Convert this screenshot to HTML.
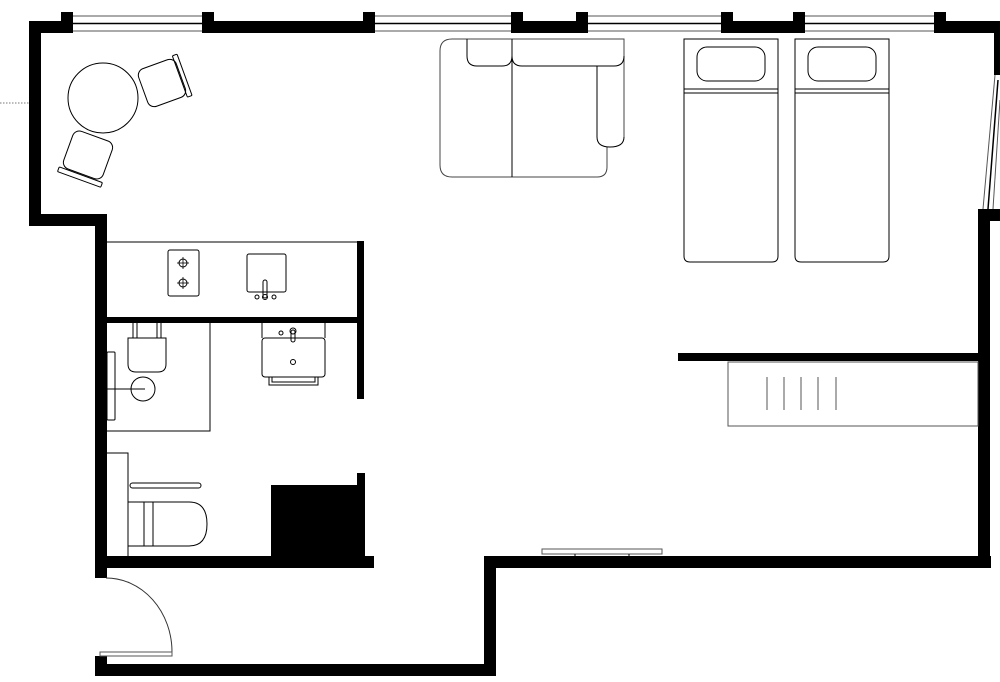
<!DOCTYPE html>
<html><head><meta charset="utf-8"><style>html,body{margin:0;padding:0;background:#fff}svg{display:block}</style></head>
<body>
<svg width="1000" height="682" viewBox="0 0 1000 682" xmlns="http://www.w3.org/2000/svg">
<g fill="#000">
<rect x="29" y="21" width="44" height="12"/><rect x="61" y="12" width="12" height="21"/>
<rect x="202" y="21" width="173" height="12"/><rect x="202" y="12" width="12" height="21"/><rect x="363" y="12" width="12" height="21"/>
<rect x="511" y="21" width="77" height="12"/><rect x="511" y="12" width="12" height="21"/><rect x="576" y="12" width="12" height="21"/>
<rect x="721" y="21" width="84" height="12"/><rect x="721" y="12" width="12" height="21"/><rect x="793" y="12" width="12" height="21"/>
<rect x="934" y="21" width="66" height="12"/><rect x="934" y="12" width="12" height="21"/>
<rect x="994" y="21" width="6" height="54"/>
<rect x="29" y="21" width="12" height="205"/>
<rect x="29" y="214" width="78" height="12"/>
<rect x="95" y="214" width="12" height="364"/>
<rect x="95" y="656" width="12" height="20"/>
<rect x="95" y="664" width="401" height="12"/>
<rect x="484" y="556" width="12" height="120"/>
<rect x="484" y="556" width="507" height="12"/>
<rect x="978" y="209" width="22" height="12"/>
<rect x="978" y="209" width="12" height="359"/>
<rect x="107" y="317" width="251" height="6"/>
<rect x="357" y="241" width="7" height="158"/>
<rect x="357" y="473" width="8" height="90"/>
<rect x="271" y="485" width="93" height="75"/>
<rect x="95" y="556" width="279" height="12"/>
<rect x="678" y="353" width="300" height="8"/>
</g>
<g fill="none" stroke="#000" stroke-width="1">
<g stroke="#555"><line x1="73" y1="16" x2="202" y2="16"/><line x1="73" y1="31" x2="202" y2="31"/>
<line x1="375" y1="16" x2="511" y2="16"/><line x1="375" y1="31" x2="511" y2="31"/>
<line x1="588" y1="16" x2="721" y2="16"/><line x1="588" y1="31" x2="721" y2="31"/>
<line x1="805" y1="16" x2="934" y2="16"/><line x1="805" y1="31" x2="934" y2="31"/></g>
<g stroke-width="1.5"><line x1="73" y1="23.5" x2="202" y2="23.5"/><line x1="375" y1="23.5" x2="511" y2="23.5"/><line x1="588" y1="23.5" x2="721" y2="23.5"/><line x1="805" y1="23.5" x2="934" y2="23.5"/></g>
<line x1="995" y1="75" x2="983" y2="209" stroke="#555"/><line x1="998" y1="80" x2="988" y2="209" stroke-width="1.5"/><line x1="1000" y1="100" x2="993" y2="209" stroke="#555"/>
<line x1="0" y1="103" x2="29" y2="103" stroke="#777" stroke-dasharray="1.5,1.5"/>
<circle cx="103" cy="98" r="35"/>
<g transform="translate(162,83) rotate(-20)"><rect x="-20" y="-20" width="40" height="40" rx="7"/><rect x="19" y="-22" width="5" height="44" rx="1"/></g>
<g transform="translate(88,155) rotate(20)"><rect x="-21" y="-20" width="42" height="40" rx="7"/><rect x="-23" y="21" width="46" height="5" rx="1"/></g>
<!-- sofa -->
<path d="M607 147 V167 Q607 177 597 177 H452 Q440 177 440 165 V51 Q440 39 452 39 H624 V137" stroke="#444"/>
<line x1="512" y1="39" x2="512" y2="177"/>
<path d="M467 39 V56 Q467 66 477 66 H502 Q512 66 512 56"/>
<path d="M512 56 Q512 66 522 66 H614 Q624 66 624 56"/>
<path d="M597 66 V137 Q597 147 610 147 Q624 147 624 137"/>
<g transform="translate(684,39)"><path d="M0 0 H94 V217 Q94 223 88 223 H6 Q0 223 0 217 Z"/><rect x="13" y="8" width="68" height="34" rx="10"/><line x1="0" y1="50" x2="94" y2="50"/><line x1="0" y1="54" x2="94" y2="54"/></g>
<g transform="translate(795,39)"><path d="M0 0 H94 V217 Q94 223 88 223 H6 Q0 223 0 217 Z"/><rect x="13" y="8" width="68" height="34" rx="10"/><line x1="0" y1="50" x2="94" y2="50"/><line x1="0" y1="54" x2="94" y2="54"/></g>
<rect x="728" y="362" width="250" height="64" stroke="#555"/>
<g stroke="#555"><line x1="767" y1="377" x2="767" y2="410"/><line x1="784" y1="377" x2="784" y2="410"/><line x1="801" y1="377" x2="801" y2="410"/><line x1="818" y1="377" x2="818" y2="410"/><line x1="836" y1="377" x2="836" y2="410"/></g>
<rect x="542" y="549" width="120" height="5" stroke="#555"/><line x1="575" y1="554" x2="575" y2="556"/><line x1="629" y1="554" x2="629" y2="556"/>
<line x1="107" y1="242" x2="358" y2="242"/>
<rect x="168" y="250" width="31" height="46" rx="2"/>
<circle cx="183" cy="263" r="4"/><circle cx="183" cy="283" r="4"/>
<g stroke-width="0.8"><line x1="177" y1="263" x2="189" y2="263"/><line x1="183" y1="257" x2="183" y2="269"/><line x1="177" y1="283" x2="189" y2="283"/><line x1="183" y1="277" x2="183" y2="289"/></g>
<rect x="247" y="254" width="39" height="38" rx="2"/>
<rect x="263" y="280" width="4" height="18" rx="2"/><circle cx="265" cy="297" r="2.5"/><circle cx="257" cy="297" r="2"/><circle cx="274" cy="297" r="2"/>
<path d="M107 431 H210 V323"/>
<rect x="107" y="352" width="8" height="68" rx="1"/>
<circle cx="143" cy="389" r="12"/>
<line x1="107" y1="389" x2="145" y2="389"/>
<path d="M128 338 H166 V364 Q166 372 158 372 H136 Q128 372 128 364 Z"/>
<line x1="133" y1="323" x2="133" y2="338"/><line x1="137" y1="323" x2="137" y2="338"/><line x1="157" y1="323" x2="157" y2="338"/><line x1="161" y1="323" x2="161" y2="338"/>
<path d="M262 323 V338 M325 323 V338"/>
<rect x="262" y="338" width="63" height="39" rx="3"/>
<path d="M269 377 V385 H318 V377"/><path d="M272 377 V382 H315 V377"/>
<rect x="291" y="330" width="4" height="12" rx="2"/><circle cx="293" cy="331" r="3"/><circle cx="281" cy="333" r="2"/><circle cx="293" cy="362" r="2.5"/>
<path d="M107 453 H128 V556"/>
<rect x="130" y="483" width="71" height="5" rx="2.5"/>
<path d="M128 502 H189 Q207 502 207 524 Q207 546 189 546 H128"/>
<line x1="144" y1="502" x2="144" y2="546"/><line x1="153" y1="502" x2="153" y2="546"/>
<path d="M106 578 A66 74 0 0 1 172 652" stroke="#333"/>
<rect x="100" y="652" width="72" height="4" stroke="#555"/>
</g>
</svg>
</body></html>
